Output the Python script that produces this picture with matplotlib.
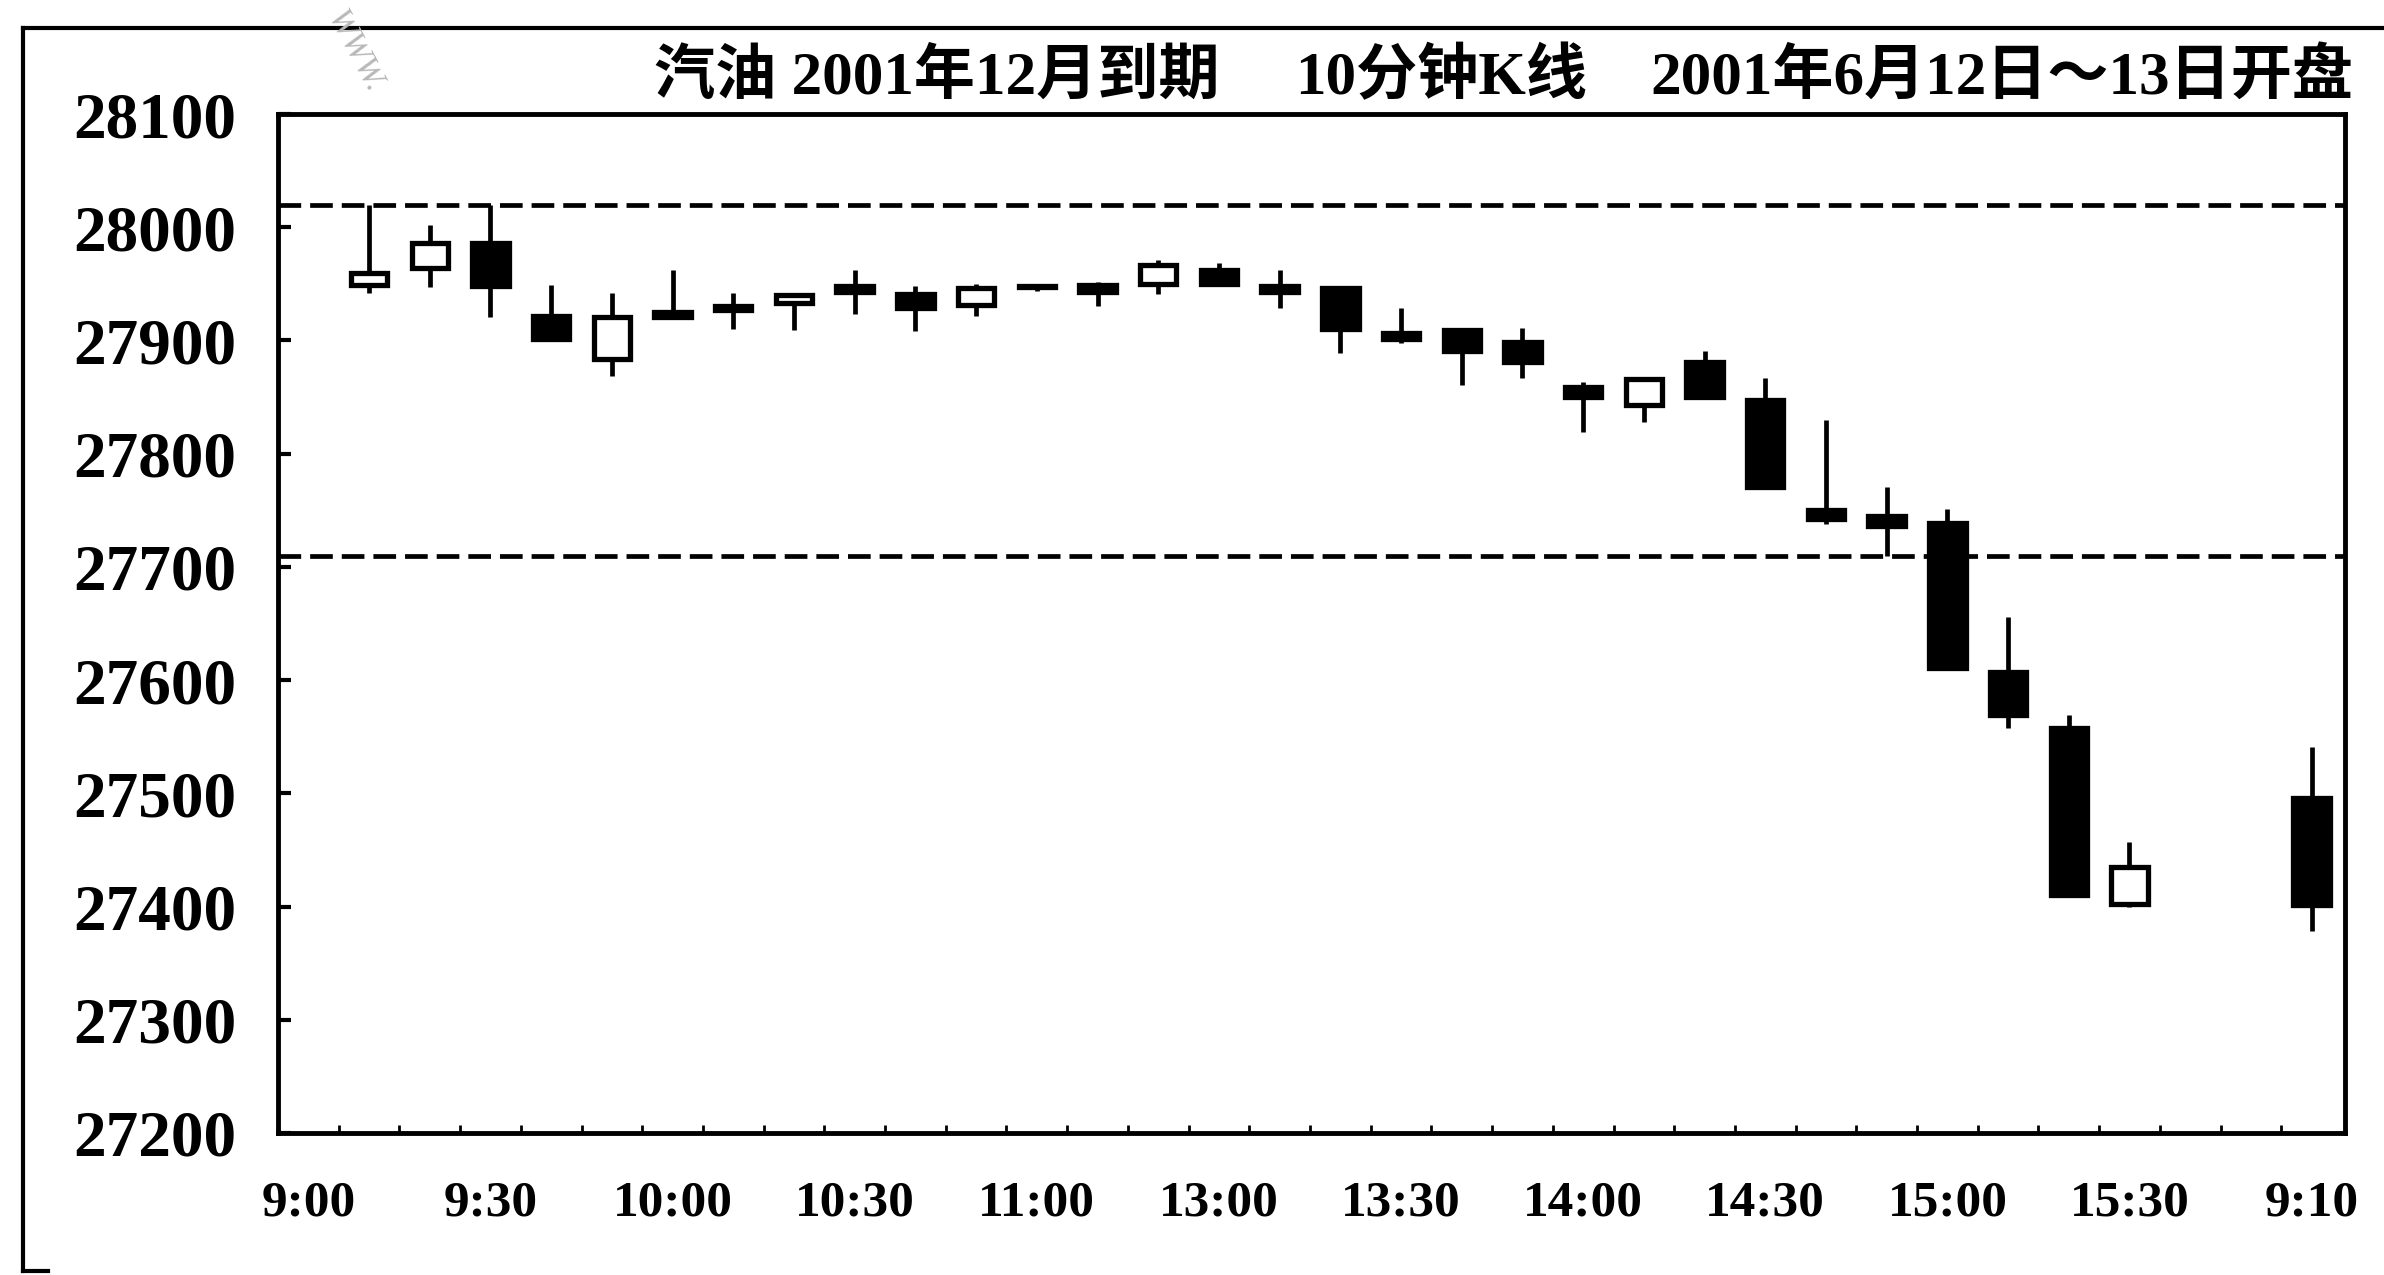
import numpy as np
import matplotlib
matplotlib.use("Agg")
import matplotlib.pyplot as plt
from matplotlib.lines import Line2D

# ---------------- data ----------------
# 33 ten-minute slots (index 0..32); slots 30 and 31 are empty
opens  = [27949, 27964, 27986, 27922, 27884, 27925, 27930, 27933, 27948, 27941,
          27931, 27948, 27949, 27950, 27962, 27948, 27946, 27907, 27909, 27899,
          27859, 27843, 27881, 27847, 27750, 27745, 27739, 27607, 27558, 27402,
          np.nan, np.nan, 27496]
highs  = [28020, 28002, 28020, 27949, 27942, 27962, 27942, 27942, 27962, 27948,
          27950, 27950, 27952, 27971, 27968, 27962, 27948, 27929, 27911, 27911,
          27863, 27868, 27891, 27867, 27830, 27771, 27751, 27656, 27569, 27457,
          np.nan, np.nan, 27541]
lows   = [27942, 27947, 27921, 27900, 27869, 27919, 27910, 27909, 27923, 27908,
          27922, 27944, 27930, 27941, 27948, 27929, 27889, 27898, 27861, 27867,
          27819, 27828, 27848, 27769, 27738, 27710, 27609, 27558, 27408, 27400,
          np.nan, np.nan, 27378]
closes = [27960, 27986, 27948, 27901, 27921, 27921, 27927, 27940, 27943, 27929,
          27946, 27947, 27943, 27967, 27950, 27943, 27910, 27901, 27891, 27881,
          27850, 27866, 27850, 27771, 27742, 27736, 27611, 27569, 27410, 27435,
          np.nan, np.nan, 27401]

ref_levels = [28020, 27710]                      # dashed horizontal lines
tick_slots  = [-1, 2, 5, 8, 11, 14, 17, 20, 23, 26, 29, 32]
tick_labels = ["9:00", "9:30", "10:00", "10:30", "11:00", "13:00",
               "13:30", "14:00", "14:30", "15:00", "15:30", "9:10"]
y_ticks = list(range(27200, 28101, 100))
title_parts = ["汽油 2001年12月到期", "10分钟K线", "2001年6月12日～13日开盘"]

# ---------------- layout ----------------
W, H = 2384, 1275
DPI = 100
fig = plt.figure(figsize=(W / DPI, H / DPI), dpi=DPI)
fig.patch.set_facecolor("white")

def fx(px):
    return px / W

def fy(py):
    return 1 - py / H

ax_l, ax_r, ax_t, ax_b = 278, 2345, 114, 1133
ax = fig.add_axes([fx(ax_l), fy(ax_b), fx(ax_r - ax_l), fy(ax_t) - fy(ax_b)])
ax.set_facecolor("none")

serif = ["Liberation Serif", "Noto Sans CJK SC"]

x = np.arange(len(opens))
o = np.array(opens, float)
c = np.array(closes, float)
hi = np.array(highs, float)
lo = np.array(lows, float)
valid = ~np.isnan(o)

# wicks
ax.vlines(x[valid], lo[valid], hi[valid], colors="black", linewidth=3.4,
          zorder=2, capstyle="butt")

# bodies
up = valid & (c >= o)
dn = valid & (c < o)
ax.bar(x[up], (c - o)[up], bottom=o[up], width=0.6, facecolor="white",
       edgecolor="black", linewidth=3.8, zorder=3)
ax.bar(x[dn], (c - o)[dn], bottom=o[dn], width=0.6, facecolor="black",
       edgecolor="black", linewidth=3.8, zorder=3)

# dashed reference lines
for lv in ref_levels:
    ax.axhline(lv, color="black", linewidth=3.4, linestyle=(0, (4.8, 1.9)),
               zorder=1.5)

ax.set_xlim(-1.5, 32.55)
ax.set_ylim(27200, 28100)

ax.set_yticks(y_ticks)
ax.set_yticklabels([str(v) for v in y_ticks])
ax.tick_params(axis="y", direction="in", length=9, width=3, pad=30,
               labelsize=47)
for t in ax.get_yticklabels():
    t.set_family(serif)
    t.set_fontweight("bold")

ax.set_xticks(tick_slots)
ax.set_xticklabels(tick_labels)
ax.set_xticks(np.arange(-0.5, 32.0, 1.0), minor=True)
ax.tick_params(axis="x", which="major", length=0, pad=34, labelsize=37)
ax.tick_params(axis="x", which="minor", direction="in", length=6, width=2)
for t in ax.get_xticklabels():
    t.set_family(serif)
    t.set_fontweight("bold")

for s in ax.spines.values():
    s.set_linewidth(3.5)
    s.set_color("black")

# title pieces
title_x = [654, 1295, 1650]
for txt, px in zip(title_parts, title_x):
    fig.text(fx(px), fy(94), txt, ha="left", va="baseline", fontsize=44,
             fontweight="bold", family=serif, color="black")

# outer frame (partial, as in the scanned figure)
lw_frame = 3.0
fig.add_artist(Line2D([fx(23), fx(23)], [fy(28), fy(1271)], color="black",
                      linewidth=lw_frame, transform=fig.transFigure))
fig.add_artist(Line2D([fx(23), fx(W)], [fy(28), fy(28)], color="black",
                      linewidth=lw_frame, transform=fig.transFigure))
fig.add_artist(Line2D([fx(23), fx(48)], [fy(1271), fy(1271)], color="black",
                      linewidth=lw_frame, transform=fig.transFigure))

# faint watermark text
fig.text(fx(355), fy(52), "WWW.", rotation=-62, ha="center", va="center",
         fontsize=24, style="italic", family=["Liberation Serif"],
         color="#b8b8b8")

fig.savefig("out.png", dpi=DPI, facecolor="white")
